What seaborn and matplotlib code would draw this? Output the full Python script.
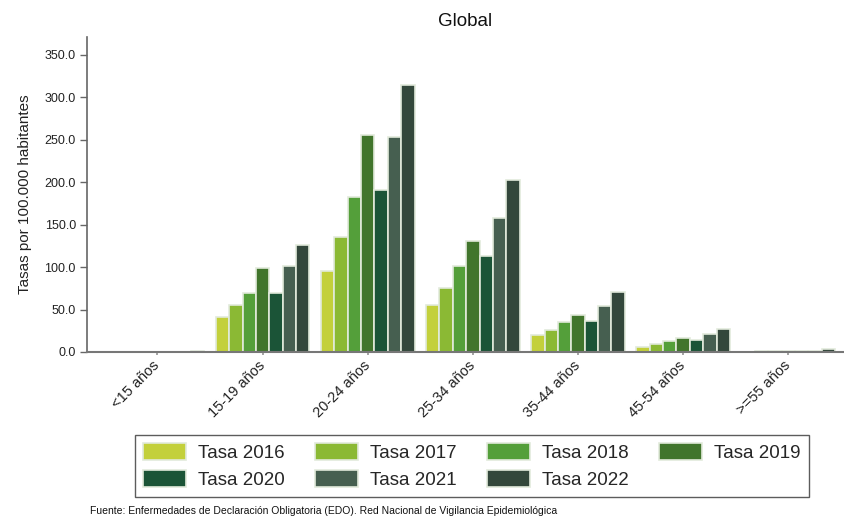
import matplotlib
matplotlib.use("Agg")
import matplotlib.pyplot as plt
import seaborn as sns
import pandas as pd

categories = ["<15 años", "15-19 años", "20-24 años", "25-34 años", "35-44 años", "45-54 años", ">=55 años"]
series_names = ["Tasa 2016", "Tasa 2017", "Tasa 2018", "Tasa 2019", "Tasa 2020", "Tasa 2021", "Tasa 2022"]
tasa_2016 = [0.2, 41.0, 95.0, 55.0, 20.0, 6.0, 0.5]
tasa_2017 = [0.2, 55.0, 136.0, 75.0, 26.5, 9.0, 0.7]
tasa_2018 = [0.2, 69.0, 182.0, 101.0, 35.5, 13.0, 1.0]
tasa_2019 = [0.3, 98.5, 255.0, 131.0, 43.5, 17.0, 1.2]
tasa_2020 = [0.2, 70.0, 191.0, 113.0, 37.0, 14.0, 1.0]
tasa_2021 = [0.4, 101.0, 253.0, 157.5, 54.0, 21.0, 1.5]
tasa_2022 = [1.0, 126.0, 314.0, 202.5, 71.0, 27.0, 3.5]
all_series = [tasa_2016, tasa_2017, tasa_2018, tasa_2019, tasa_2020, tasa_2021, tasa_2022]
colors = ["#c3d03b", "#8bb934", "#549f3a", "#41752c", "#1b5437", "#465f50", "#33473b"]
yticks = [0, 50, 100, 150, 200, 250, 300, 350]

rows = []
for name, vals in zip(series_names, all_series):
    for cat, v in zip(categories, vals):
        rows.append({"cat": cat, "serie": name, "valor": v})
df = pd.DataFrame(rows)

sns.set_theme(style="white")
plt.rcParams["font.family"] = ["Liberation Sans", "DejaVu Sans"]

fig = plt.figure(figsize=(8.45, 5.19), dpi=100)
ax = fig.add_axes([87/845, 1-352/519, (843-87)/845, (352-37)/519])

sns.barplot(data=df, x="cat", y="valor", hue="serie", order=categories,
            hue_order=series_names, palette=colors, width=0.89, saturation=1,
            edgecolor="#e2eadb", linewidth=1.2, ax=ax, errorbar=None)

ax.set_xlim(-0.67, 6.52)
ax.set_ylim(0, 371)
ax.set_yticks(yticks)
ax.set_yticklabels([f"{v:.1f}" for v in yticks], fontsize=9, color="#222222")
ax.set_xticks(range(len(categories)))
ax.set_xticklabels(categories, rotation=45, ha="right", va="center",
                   rotation_mode="anchor", fontsize=10.5, color="#222222")
ax.tick_params(axis="x", length=2, pad=6, color="#999999", bottom=True)
ax.tick_params(axis="y", length=5, width=1, color="#666666", left=True, pad=3)
ax.set_xlabel("")
ax.set_ylabel("Tasas por 100.000 habitantes", fontsize=11, color="#222222", labelpad=9)
for s in ["top", "right"]:
    ax.spines[s].set_visible(False)
ax.spines["left"].set_color("#666666")
ax.spines["left"].set_linewidth(1.2)
ax.spines["bottom"].set_color("#777777")
ax.spines["bottom"].set_linewidth(1.5)

fig.text((87+843)/2/845, 1-21/519, "Global", ha="center", va="center", fontsize=13.5, color="#111111")

handles, labels = ax.get_legend_handles_labels()
if ax.get_legend() is not None:
    ax.get_legend().remove()
order = [0, 4, 1, 5, 2, 6, 3]
handles = [handles[i] for i in order]
labels = [labels[i] for i in order]
leg = fig.legend(handles, labels, loc="center", bbox_to_anchor=(472/845, 1-466/519),
                 ncol=4, fontsize=13.5, frameon=True, fancybox=False,
                 handlelength=2.3, handleheight=1.0, handletextpad=0.65,
                 columnspacing=1.6, labelspacing=0.4, borderpad=0.45)
leg.get_frame().set_edgecolor("#333333")
leg.get_frame().set_linewidth(1.0)

fig.text(90/845, 1-511/519,
         "Fuente: Enfermedades de Declaración Obligatoria (EDO). Red Nacional de Vigilancia Epidemiológica",
         ha="left", va="center", fontsize=7.5, color="#111111")

fig.savefig("out.png", dpi=100)
